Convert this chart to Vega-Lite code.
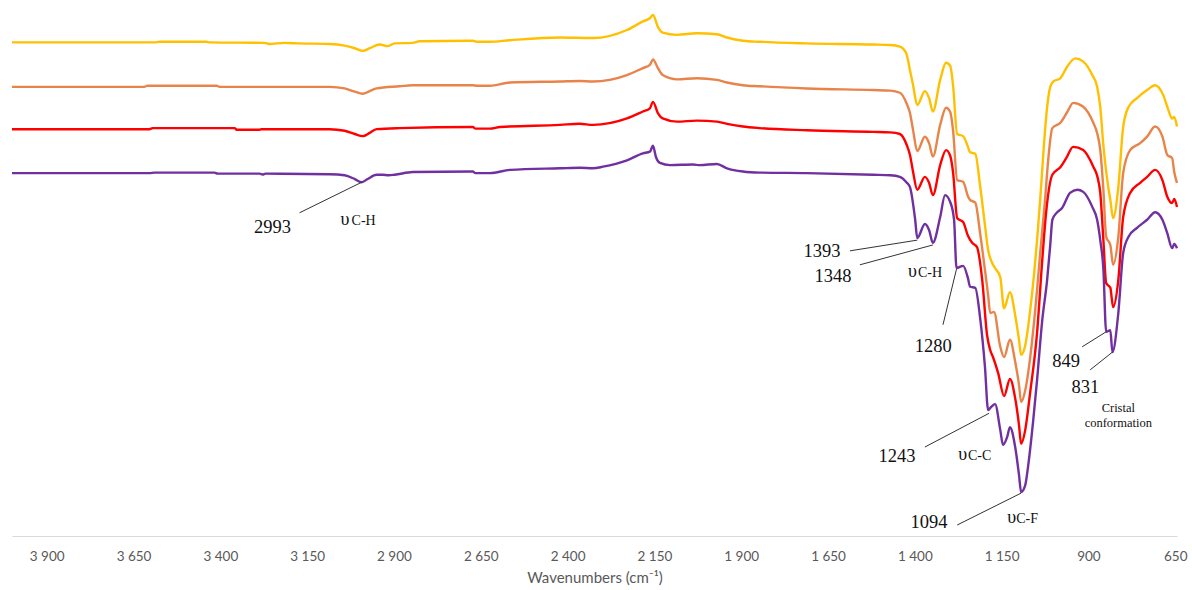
{
  "$schema": "https://vega.github.io/schema/vega-lite/v6.json",
  "width": 1165,
  "height": 536,
  "autosize": {"type": "none"},
  "padding": {"left": 12, "top": 0, "right": 15, "bottom": 54},
  "background": "white",
  "config": {"view": {"stroke": null}},
  "datasets": {
    "spectra": [
      {"sample": "Sample A", "wavenumber": 4000, "transmittance": 92.1}, {"sample": "Sample A", "wavenumber": 3590, "transmittance": 92.1}, {"sample": "Sample A", "wavenumber": 3575, "transmittance": 92.2}, {"sample": "Sample A", "wavenumber": 3440, "transmittance": 92.2}, {"sample": "Sample A", "wavenumber": 3431, "transmittance": 92.1}, {"sample": "Sample A", "wavenumber": 3273, "transmittance": 92.0}, {"sample": "Sample A", "wavenumber": 3259, "transmittance": 91.8}, {"sample": "Sample A", "wavenumber": 3215, "transmittance": 92.0}, {"sample": "Sample A", "wavenumber": 3172, "transmittance": 91.9}, {"sample": "Sample A", "wavenumber": 3085, "transmittance": 91.8}, {"sample": "Sample A", "wavenumber": 3042, "transmittance": 91.5}, {"sample": "Sample A", "wavenumber": 3013, "transmittance": 91.0}, {"sample": "Sample A", "wavenumber": 2990, "transmittance": 90.5}, {"sample": "Sample A", "wavenumber": 2970, "transmittance": 91.0}, {"sample": "Sample A", "wavenumber": 2941, "transmittance": 91.7}, {"sample": "Sample A", "wavenumber": 2918, "transmittance": 91.4}, {"sample": "Sample A", "wavenumber": 2898, "transmittance": 91.9}, {"sample": "Sample A", "wavenumber": 2846, "transmittance": 92.0}, {"sample": "Sample A", "wavenumber": 2826, "transmittance": 92.3}, {"sample": "Sample A", "wavenumber": 2673, "transmittance": 92.4}, {"sample": "Sample A", "wavenumber": 2659, "transmittance": 92.2}, {"sample": "Sample A", "wavenumber": 2624, "transmittance": 92.2}, {"sample": "Sample A", "wavenumber": 2566, "transmittance": 92.5}, {"sample": "Sample A", "wavenumber": 2422, "transmittance": 93.0}, {"sample": "Sample A", "wavenumber": 2327, "transmittance": 92.9}, {"sample": "Sample A", "wavenumber": 2229, "transmittance": 94.4}, {"sample": "Sample A", "wavenumber": 2183, "transmittance": 96.0}, {"sample": "Sample A", "wavenumber": 2163, "transmittance": 96.6}, {"sample": "Sample A", "wavenumber": 2154, "transmittance": 97.2}, {"sample": "Sample A", "wavenumber": 2140, "transmittance": 95.0}, {"sample": "Sample A", "wavenumber": 2126, "transmittance": 93.9}, {"sample": "Sample A", "wavenumber": 2085, "transmittance": 93.5}, {"sample": "Sample A", "wavenumber": 2028, "transmittance": 93.8}, {"sample": "Sample A", "wavenumber": 1970, "transmittance": 93.6}, {"sample": "Sample A", "wavenumber": 1941, "transmittance": 93.0}, {"sample": "Sample A", "wavenumber": 1895, "transmittance": 92.4}, {"sample": "Sample A", "wavenumber": 1846, "transmittance": 92.2}, {"sample": "Sample A", "wavenumber": 1711, "transmittance": 91.9}, {"sample": "Sample A", "wavenumber": 1520, "transmittance": 91.7}, {"sample": "Sample A", "wavenumber": 1471, "transmittance": 91.6}, {"sample": "Sample A", "wavenumber": 1443, "transmittance": 91.3}, {"sample": "Sample A", "wavenumber": 1425, "transmittance": 90.1}, {"sample": "Sample A", "wavenumber": 1414, "transmittance": 86.9}, {"sample": "Sample A", "wavenumber": 1405, "transmittance": 84.1}, {"sample": "Sample A", "wavenumber": 1393, "transmittance": 80.4}, {"sample": "Sample A", "wavenumber": 1371, "transmittance": 83.0}, {"sample": "Sample A", "wavenumber": 1359, "transmittance": 81.7}, {"sample": "Sample A", "wavenumber": 1348, "transmittance": 79.2}, {"sample": "Sample A", "wavenumber": 1327, "transmittance": 85.1}, {"sample": "Sample A", "wavenumber": 1310, "transmittance": 88.3}, {"sample": "Sample A", "wavenumber": 1298, "transmittance": 87.7}, {"sample": "Sample A", "wavenumber": 1290, "transmittance": 84.1}, {"sample": "Sample A", "wavenumber": 1278, "transmittance": 75.0}, {"sample": "Sample A", "wavenumber": 1261, "transmittance": 74.6}, {"sample": "Sample A", "wavenumber": 1247, "transmittance": 72.6}, {"sample": "Sample A", "wavenumber": 1241, "transmittance": 71.6}, {"sample": "Sample A", "wavenumber": 1226, "transmittance": 71.3}, {"sample": "Sample A", "wavenumber": 1212, "transmittance": 65.3}, {"sample": "Sample A", "wavenumber": 1198, "transmittance": 58.0}, {"sample": "Sample A", "wavenumber": 1189, "transmittance": 53.4}, {"sample": "Sample A", "wavenumber": 1177, "transmittance": 50.9}, {"sample": "Sample A", "wavenumber": 1169, "transmittance": 50.0}, {"sample": "Sample A", "wavenumber": 1154, "transmittance": 48.3}, {"sample": "Sample A", "wavenumber": 1143, "transmittance": 42.5}, {"sample": "Sample A", "wavenumber": 1126, "transmittance": 45.5}, {"sample": "Sample A", "wavenumber": 1111, "transmittance": 41.2}, {"sample": "Sample A", "wavenumber": 1100, "transmittance": 36.6}, {"sample": "Sample A", "wavenumber": 1094, "transmittance": 33.8}, {"sample": "Sample A", "wavenumber": 1082, "transmittance": 35.6}, {"sample": "Sample A", "wavenumber": 1068, "transmittance": 42.0}, {"sample": "Sample A", "wavenumber": 1048, "transmittance": 55.2}, {"sample": "Sample A", "wavenumber": 1039, "transmittance": 62.7}, {"sample": "Sample A", "wavenumber": 1028, "transmittance": 73.1}, {"sample": "Sample A", "wavenumber": 1019, "transmittance": 80.0}, {"sample": "Sample A", "wavenumber": 1010, "transmittance": 83.8}, {"sample": "Sample A", "wavenumber": 1001, "transmittance": 84.8}, {"sample": "Sample A", "wavenumber": 981, "transmittance": 85.4}, {"sample": "Sample A", "wavenumber": 961, "transmittance": 87.6}, {"sample": "Sample A", "wavenumber": 938, "transmittance": 89.1}, {"sample": "Sample A", "wavenumber": 915, "transmittance": 88.5}, {"sample": "Sample A", "wavenumber": 889, "transmittance": 86.0}, {"sample": "Sample A", "wavenumber": 875, "transmittance": 83.8}, {"sample": "Sample A", "wavenumber": 866, "transmittance": 80.0}, {"sample": "Sample A", "wavenumber": 857, "transmittance": 72.9}, {"sample": "Sample A", "wavenumber": 843, "transmittance": 65.1}, {"sample": "Sample A", "wavenumber": 837, "transmittance": 62.7}, {"sample": "Sample A", "wavenumber": 829, "transmittance": 59.3}, {"sample": "Sample A", "wavenumber": 814, "transmittance": 65.1}, {"sample": "Sample A", "wavenumber": 800, "transmittance": 76.3}, {"sample": "Sample A", "wavenumber": 785, "transmittance": 80.0}, {"sample": "Sample A", "wavenumber": 760, "transmittance": 81.7}, {"sample": "Sample A", "wavenumber": 731, "transmittance": 83.2}, {"sample": "Sample A", "wavenumber": 708, "transmittance": 84.1}, {"sample": "Sample A", "wavenumber": 685, "transmittance": 82.3}, {"sample": "Sample A", "wavenumber": 670, "transmittance": 79.5}, {"sample": "Sample A", "wavenumber": 659, "transmittance": 77.9}, {"sample": "Sample A", "wavenumber": 653, "transmittance": 78.2}, {"sample": "Sample A", "wavenumber": 645, "transmittance": 76.4},

      {"sample": "Sample B", "wavenumber": 4000, "transmittance": 83.8}, {"sample": "Sample B", "wavenumber": 3619, "transmittance": 83.8}, {"sample": "Sample B", "wavenumber": 3610, "transmittance": 84.0}, {"sample": "Sample B", "wavenumber": 3411, "transmittance": 84.0}, {"sample": "Sample B", "wavenumber": 3402, "transmittance": 83.8}, {"sample": "Sample B", "wavenumber": 3085, "transmittance": 83.8}, {"sample": "Sample B", "wavenumber": 3042, "transmittance": 83.5}, {"sample": "Sample B", "wavenumber": 3013, "transmittance": 82.9}, {"sample": "Sample B", "wavenumber": 2990, "transmittance": 82.5}, {"sample": "Sample B", "wavenumber": 2970, "transmittance": 83.0}, {"sample": "Sample B", "wavenumber": 2950, "transmittance": 83.5}, {"sample": "Sample B", "wavenumber": 2884, "transmittance": 83.9}, {"sample": "Sample B", "wavenumber": 2846, "transmittance": 84.1}, {"sample": "Sample B", "wavenumber": 2673, "transmittance": 84.1}, {"sample": "Sample B", "wavenumber": 2659, "transmittance": 84.0}, {"sample": "Sample B", "wavenumber": 2624, "transmittance": 84.0}, {"sample": "Sample B", "wavenumber": 2566, "transmittance": 84.6}, {"sample": "Sample B", "wavenumber": 2422, "transmittance": 84.8}, {"sample": "Sample B", "wavenumber": 2365, "transmittance": 84.9}, {"sample": "Sample B", "wavenumber": 2327, "transmittance": 84.8}, {"sample": "Sample B", "wavenumber": 2229, "transmittance": 86.0}, {"sample": "Sample B", "wavenumber": 2183, "transmittance": 87.3}, {"sample": "Sample B", "wavenumber": 2163, "transmittance": 87.9}, {"sample": "Sample B", "wavenumber": 2154, "transmittance": 88.9}, {"sample": "Sample B", "wavenumber": 2140, "transmittance": 87.3}, {"sample": "Sample B", "wavenumber": 2126, "transmittance": 86.0}, {"sample": "Sample B", "wavenumber": 2085, "transmittance": 85.2}, {"sample": "Sample B", "wavenumber": 2028, "transmittance": 85.4}, {"sample": "Sample B", "wavenumber": 1970, "transmittance": 85.1}, {"sample": "Sample B", "wavenumber": 1941, "transmittance": 84.6}, {"sample": "Sample B", "wavenumber": 1895, "transmittance": 84.1}, {"sample": "Sample B", "wavenumber": 1846, "transmittance": 83.9}, {"sample": "Sample B", "wavenumber": 1711, "transmittance": 83.5}, {"sample": "Sample B", "wavenumber": 1520, "transmittance": 83.2}, {"sample": "Sample B", "wavenumber": 1471, "transmittance": 83.1}, {"sample": "Sample B", "wavenumber": 1443, "transmittance": 82.7}, {"sample": "Sample B", "wavenumber": 1423, "transmittance": 80.6}, {"sample": "Sample B", "wavenumber": 1414, "transmittance": 78.9}, {"sample": "Sample B", "wavenumber": 1405, "transmittance": 75.7}, {"sample": "Sample B", "wavenumber": 1393, "transmittance": 71.8}, {"sample": "Sample B", "wavenumber": 1371, "transmittance": 74.5}, {"sample": "Sample B", "wavenumber": 1359, "transmittance": 73.3}, {"sample": "Sample B", "wavenumber": 1348, "transmittance": 70.8}, {"sample": "Sample B", "wavenumber": 1327, "transmittance": 76.7}, {"sample": "Sample B", "wavenumber": 1310, "transmittance": 79.9}, {"sample": "Sample B", "wavenumber": 1298, "transmittance": 79.1}, {"sample": "Sample B", "wavenumber": 1290, "transmittance": 75.7}, {"sample": "Sample B", "wavenumber": 1278, "transmittance": 66.4}, {"sample": "Sample B", "wavenumber": 1261, "transmittance": 66.1}, {"sample": "Sample B", "wavenumber": 1247, "transmittance": 63.4}, {"sample": "Sample B", "wavenumber": 1241, "transmittance": 62.7}, {"sample": "Sample B", "wavenumber": 1226, "transmittance": 62.2}, {"sample": "Sample B", "wavenumber": 1212, "transmittance": 56.5}, {"sample": "Sample B", "wavenumber": 1198, "transmittance": 49.6}, {"sample": "Sample B", "wavenumber": 1189, "transmittance": 45.0}, {"sample": "Sample B", "wavenumber": 1183, "transmittance": 41.6}, {"sample": "Sample B", "wavenumber": 1172, "transmittance": 41.8}, {"sample": "Sample B", "wavenumber": 1154, "transmittance": 35.3}, {"sample": "Sample B", "wavenumber": 1143, "transmittance": 33.4}, {"sample": "Sample B", "wavenumber": 1126, "transmittance": 36.6}, {"sample": "Sample B", "wavenumber": 1111, "transmittance": 32.5}, {"sample": "Sample B", "wavenumber": 1100, "transmittance": 28.2}, {"sample": "Sample B", "wavenumber": 1094, "transmittance": 25.0}, {"sample": "Sample B", "wavenumber": 1082, "transmittance": 27.2}, {"sample": "Sample B", "wavenumber": 1068, "transmittance": 33.2}, {"sample": "Sample B", "wavenumber": 1048, "transmittance": 45.9}, {"sample": "Sample B", "wavenumber": 1039, "transmittance": 52.8}, {"sample": "Sample B", "wavenumber": 1025, "transmittance": 62.7}, {"sample": "Sample B", "wavenumber": 1016, "transmittance": 70.1}, {"sample": "Sample B", "wavenumber": 1004, "transmittance": 76.1}, {"sample": "Sample B", "wavenumber": 981, "transmittance": 77.1}, {"sample": "Sample B", "wavenumber": 961, "transmittance": 79.1}, {"sample": "Sample B", "wavenumber": 944, "transmittance": 80.8}, {"sample": "Sample B", "wavenumber": 915, "transmittance": 80.1}, {"sample": "Sample B", "wavenumber": 886, "transmittance": 77.1}, {"sample": "Sample B", "wavenumber": 875, "transmittance": 75.2}, {"sample": "Sample B", "wavenumber": 866, "transmittance": 72.0}, {"sample": "Sample B", "wavenumber": 857, "transmittance": 64.6}, {"sample": "Sample B", "wavenumber": 849, "transmittance": 55.8}, {"sample": "Sample B", "wavenumber": 837, "transmittance": 54.3}, {"sample": "Sample B", "wavenumber": 829, "transmittance": 50.6}, {"sample": "Sample B", "wavenumber": 814, "transmittance": 55.8}, {"sample": "Sample B", "wavenumber": 800, "transmittance": 67.7}, {"sample": "Sample B", "wavenumber": 780, "transmittance": 72.0}, {"sample": "Sample B", "wavenumber": 751, "transmittance": 73.3}, {"sample": "Sample B", "wavenumber": 731, "transmittance": 74.5}, {"sample": "Sample B", "wavenumber": 708, "transmittance": 76.4}, {"sample": "Sample B", "wavenumber": 687, "transmittance": 74.5}, {"sample": "Sample B", "wavenumber": 673, "transmittance": 71.1}, {"sample": "Sample B", "wavenumber": 659, "transmittance": 70.5}, {"sample": "Sample B", "wavenumber": 653, "transmittance": 67.9}, {"sample": "Sample B", "wavenumber": 645, "transmittance": 65.9},

      {"sample": "Sample C", "wavenumber": 4000, "transmittance": 75.9}, {"sample": "Sample C", "wavenumber": 3604, "transmittance": 75.9}, {"sample": "Sample C", "wavenumber": 3595, "transmittance": 76.1}, {"sample": "Sample C", "wavenumber": 3359, "transmittance": 76.1}, {"sample": "Sample C", "wavenumber": 3353, "transmittance": 75.8}, {"sample": "Sample C", "wavenumber": 3287, "transmittance": 75.8}, {"sample": "Sample C", "wavenumber": 3281, "transmittance": 75.9}, {"sample": "Sample C", "wavenumber": 3085, "transmittance": 75.9}, {"sample": "Sample C", "wavenumber": 3042, "transmittance": 75.6}, {"sample": "Sample C", "wavenumber": 3013, "transmittance": 75.0}, {"sample": "Sample C", "wavenumber": 2990, "transmittance": 74.6}, {"sample": "Sample C", "wavenumber": 2970, "transmittance": 75.2}, {"sample": "Sample C", "wavenumber": 2950, "transmittance": 75.9}, {"sample": "Sample C", "wavenumber": 2884, "transmittance": 76.1}, {"sample": "Sample C", "wavenumber": 2673, "transmittance": 76.3}, {"sample": "Sample C", "wavenumber": 2665, "transmittance": 76.0}, {"sample": "Sample C", "wavenumber": 2624, "transmittance": 76.0}, {"sample": "Sample C", "wavenumber": 2595, "transmittance": 76.3}, {"sample": "Sample C", "wavenumber": 2422, "transmittance": 76.7}, {"sample": "Sample C", "wavenumber": 2365, "transmittance": 76.9}, {"sample": "Sample C", "wavenumber": 2327, "transmittance": 76.7}, {"sample": "Sample C", "wavenumber": 2229, "transmittance": 77.9}, {"sample": "Sample C", "wavenumber": 2183, "transmittance": 79.2}, {"sample": "Sample C", "wavenumber": 2163, "transmittance": 79.8}, {"sample": "Sample C", "wavenumber": 2154, "transmittance": 81.0}, {"sample": "Sample C", "wavenumber": 2140, "transmittance": 78.9}, {"sample": "Sample C", "wavenumber": 2126, "transmittance": 77.9}, {"sample": "Sample C", "wavenumber": 2085, "transmittance": 77.3}, {"sample": "Sample C", "wavenumber": 2028, "transmittance": 77.5}, {"sample": "Sample C", "wavenumber": 1970, "transmittance": 77.3}, {"sample": "Sample C", "wavenumber": 1941, "transmittance": 76.9}, {"sample": "Sample C", "wavenumber": 1895, "transmittance": 76.4}, {"sample": "Sample C", "wavenumber": 1846, "transmittance": 76.1}, {"sample": "Sample C", "wavenumber": 1711, "transmittance": 75.7}, {"sample": "Sample C", "wavenumber": 1520, "transmittance": 75.4}, {"sample": "Sample C", "wavenumber": 1471, "transmittance": 75.3}, {"sample": "Sample C", "wavenumber": 1443, "transmittance": 75.0}, {"sample": "Sample C", "wavenumber": 1423, "transmittance": 72.9}, {"sample": "Sample C", "wavenumber": 1414, "transmittance": 71.1}, {"sample": "Sample C", "wavenumber": 1405, "transmittance": 67.9}, {"sample": "Sample C", "wavenumber": 1393, "transmittance": 64.6}, {"sample": "Sample C", "wavenumber": 1371, "transmittance": 67.0}, {"sample": "Sample C", "wavenumber": 1359, "transmittance": 65.9}, {"sample": "Sample C", "wavenumber": 1348, "transmittance": 63.6}, {"sample": "Sample C", "wavenumber": 1327, "transmittance": 69.2}, {"sample": "Sample C", "wavenumber": 1310, "transmittance": 72.0}, {"sample": "Sample C", "wavenumber": 1298, "transmittance": 70.9}, {"sample": "Sample C", "wavenumber": 1290, "transmittance": 67.9}, {"sample": "Sample C", "wavenumber": 1278, "transmittance": 59.3}, {"sample": "Sample C", "wavenumber": 1261, "transmittance": 58.6}, {"sample": "Sample C", "wavenumber": 1247, "transmittance": 56.0}, {"sample": "Sample C", "wavenumber": 1235, "transmittance": 54.7}, {"sample": "Sample C", "wavenumber": 1221, "transmittance": 53.9}, {"sample": "Sample C", "wavenumber": 1206, "transmittance": 47.8}, {"sample": "Sample C", "wavenumber": 1192, "transmittance": 37.5}, {"sample": "Sample C", "wavenumber": 1183, "transmittance": 34.7}, {"sample": "Sample C", "wavenumber": 1175, "transmittance": 33.4}, {"sample": "Sample C", "wavenumber": 1160, "transmittance": 30.4}, {"sample": "Sample C", "wavenumber": 1143, "transmittance": 26.1}, {"sample": "Sample C", "wavenumber": 1126, "transmittance": 29.3}, {"sample": "Sample C", "wavenumber": 1111, "transmittance": 25.7}, {"sample": "Sample C", "wavenumber": 1100, "transmittance": 20.7}, {"sample": "Sample C", "wavenumber": 1094, "transmittance": 17.2}, {"sample": "Sample C", "wavenumber": 1082, "transmittance": 19.8}, {"sample": "Sample C", "wavenumber": 1068, "transmittance": 26.7}, {"sample": "Sample C", "wavenumber": 1048, "transmittance": 37.9}, {"sample": "Sample C", "wavenumber": 1033, "transmittance": 51.5}, {"sample": "Sample C", "wavenumber": 1022, "transmittance": 60.3}, {"sample": "Sample C", "wavenumber": 1004, "transmittance": 67.4}, {"sample": "Sample C", "wavenumber": 981, "transmittance": 68.8}, {"sample": "Sample C", "wavenumber": 964, "transmittance": 70.5}, {"sample": "Sample C", "wavenumber": 944, "transmittance": 72.6}, {"sample": "Sample C", "wavenumber": 915, "transmittance": 72.0}, {"sample": "Sample C", "wavenumber": 886, "transmittance": 68.9}, {"sample": "Sample C", "wavenumber": 875, "transmittance": 67.2}, {"sample": "Sample C", "wavenumber": 866, "transmittance": 64.0}, {"sample": "Sample C", "wavenumber": 857, "transmittance": 55.2}, {"sample": "Sample C", "wavenumber": 849, "transmittance": 47.2}, {"sample": "Sample C", "wavenumber": 837, "transmittance": 46.3}, {"sample": "Sample C", "wavenumber": 829, "transmittance": 42.7}, {"sample": "Sample C", "wavenumber": 814, "transmittance": 47.8}, {"sample": "Sample C", "wavenumber": 800, "transmittance": 59.5}, {"sample": "Sample C", "wavenumber": 780, "transmittance": 64.0}, {"sample": "Sample C", "wavenumber": 751, "transmittance": 65.9}, {"sample": "Sample C", "wavenumber": 731, "transmittance": 67.0}, {"sample": "Sample C", "wavenumber": 708, "transmittance": 68.3}, {"sample": "Sample C", "wavenumber": 687, "transmittance": 66.4}, {"sample": "Sample C", "wavenumber": 673, "transmittance": 63.3}, {"sample": "Sample C", "wavenumber": 659, "transmittance": 62.1}, {"sample": "Sample C", "wavenumber": 653, "transmittance": 62.9}, {"sample": "Sample C", "wavenumber": 645, "transmittance": 61.4},

      {"sample": "Sample D", "wavenumber": 4000, "transmittance": 67.7}, {"sample": "Sample D", "wavenumber": 3748, "transmittance": 67.7}, {"sample": "Sample D", "wavenumber": 3604, "transmittance": 67.7}, {"sample": "Sample D", "wavenumber": 3590, "transmittance": 67.8}, {"sample": "Sample D", "wavenumber": 3417, "transmittance": 67.8}, {"sample": "Sample D", "wavenumber": 3408, "transmittance": 67.6}, {"sample": "Sample D", "wavenumber": 3287, "transmittance": 67.6}, {"sample": "Sample D", "wavenumber": 3278, "transmittance": 67.45}, {"sample": "Sample D", "wavenumber": 3270, "transmittance": 67.6}, {"sample": "Sample D", "wavenumber": 3085, "transmittance": 67.5}, {"sample": "Sample D", "wavenumber": 3042, "transmittance": 67.3}, {"sample": "Sample D", "wavenumber": 3013, "transmittance": 66.6}, {"sample": "Sample D", "wavenumber": 2993, "transmittance": 66.0}, {"sample": "Sample D", "wavenumber": 2976, "transmittance": 66.6}, {"sample": "Sample D", "wavenumber": 2950, "transmittance": 67.4}, {"sample": "Sample D", "wavenumber": 2933, "transmittance": 67.4}, {"sample": "Sample D", "wavenumber": 2915, "transmittance": 67.3}, {"sample": "Sample D", "wavenumber": 2898, "transmittance": 67.4}, {"sample": "Sample D", "wavenumber": 2846, "transmittance": 67.9}, {"sample": "Sample D", "wavenumber": 2673, "transmittance": 68.0}, {"sample": "Sample D", "wavenumber": 2665, "transmittance": 67.7}, {"sample": "Sample D", "wavenumber": 2624, "transmittance": 67.7}, {"sample": "Sample D", "wavenumber": 2566, "transmittance": 68.3}, {"sample": "Sample D", "wavenumber": 2422, "transmittance": 68.6}, {"sample": "Sample D", "wavenumber": 2365, "transmittance": 68.7}, {"sample": "Sample D", "wavenumber": 2327, "transmittance": 68.6}, {"sample": "Sample D", "wavenumber": 2298, "transmittance": 68.9}, {"sample": "Sample D", "wavenumber": 2229, "transmittance": 70.1}, {"sample": "Sample D", "wavenumber": 2183, "transmittance": 71.4}, {"sample": "Sample D", "wavenumber": 2163, "transmittance": 71.7}, {"sample": "Sample D", "wavenumber": 2154, "transmittance": 72.8}, {"sample": "Sample D", "wavenumber": 2146, "transmittance": 70.8}, {"sample": "Sample D", "wavenumber": 2134, "transmittance": 69.6}, {"sample": "Sample D", "wavenumber": 2105, "transmittance": 69.2}, {"sample": "Sample D", "wavenumber": 2039, "transmittance": 69.3}, {"sample": "Sample D", "wavenumber": 2019, "transmittance": 69.2}, {"sample": "Sample D", "wavenumber": 1970, "transmittance": 69.4}, {"sample": "Sample D", "wavenumber": 1941, "transmittance": 68.6}, {"sample": "Sample D", "wavenumber": 1895, "transmittance": 68.0}, {"sample": "Sample D", "wavenumber": 1846, "transmittance": 67.8}, {"sample": "Sample D", "wavenumber": 1711, "transmittance": 67.7}, {"sample": "Sample D", "wavenumber": 1520, "transmittance": 67.4}, {"sample": "Sample D", "wavenumber": 1471, "transmittance": 67.3}, {"sample": "Sample D", "wavenumber": 1443, "transmittance": 67.0}, {"sample": "Sample D", "wavenumber": 1423, "transmittance": 65.9}, {"sample": "Sample D", "wavenumber": 1414, "transmittance": 65.1}, {"sample": "Sample D", "wavenumber": 1399, "transmittance": 59.0}, {"sample": "Sample D", "wavenumber": 1393, "transmittance": 55.6}, {"sample": "Sample D", "wavenumber": 1371, "transmittance": 58.2}, {"sample": "Sample D", "wavenumber": 1359, "transmittance": 57.1}, {"sample": "Sample D", "wavenumber": 1348, "transmittance": 54.7}, {"sample": "Sample D", "wavenumber": 1327, "transmittance": 59.5}, {"sample": "Sample D", "wavenumber": 1313, "transmittance": 63.6}, {"sample": "Sample D", "wavenumber": 1298, "transmittance": 62.3}, {"sample": "Sample D", "wavenumber": 1287, "transmittance": 59.0}, {"sample": "Sample D", "wavenumber": 1280, "transmittance": 50.0}, {"sample": "Sample D", "wavenumber": 1261, "transmittance": 50.4}, {"sample": "Sample D", "wavenumber": 1247, "transmittance": 48.1}, {"sample": "Sample D", "wavenumber": 1241, "transmittance": 46.5}, {"sample": "Sample D", "wavenumber": 1226, "transmittance": 46.3}, {"sample": "Sample D", "wavenumber": 1212, "transmittance": 40.7}, {"sample": "Sample D", "wavenumber": 1198, "transmittance": 31.5}, {"sample": "Sample D", "wavenumber": 1189, "transmittance": 23.5}, {"sample": "Sample D", "wavenumber": 1180, "transmittance": 24.1}, {"sample": "Sample D", "wavenumber": 1169, "transmittance": 24.6}, {"sample": "Sample D", "wavenumber": 1154, "transmittance": 19.8}, {"sample": "Sample D", "wavenumber": 1146, "transmittance": 17.0}, {"sample": "Sample D", "wavenumber": 1134, "transmittance": 18.5}, {"sample": "Sample D", "wavenumber": 1126, "transmittance": 20.3}, {"sample": "Sample D", "wavenumber": 1111, "transmittance": 16.6}, {"sample": "Sample D", "wavenumber": 1100, "transmittance": 11.4}, {"sample": "Sample D", "wavenumber": 1094, "transmittance": 8.2}, {"sample": "Sample D", "wavenumber": 1082, "transmittance": 9.5}, {"sample": "Sample D", "wavenumber": 1074, "transmittance": 12.9}, {"sample": "Sample D", "wavenumber": 1059, "transmittance": 21.6}, {"sample": "Sample D", "wavenumber": 1048, "transmittance": 29.1}, {"sample": "Sample D", "wavenumber": 1033, "transmittance": 40.3}, {"sample": "Sample D", "wavenumber": 1019, "transmittance": 47.8}, {"sample": "Sample D", "wavenumber": 1010, "transmittance": 54.3}, {"sample": "Sample D", "wavenumber": 1004, "transmittance": 59.0}, {"sample": "Sample D", "wavenumber": 990, "transmittance": 60.4}, {"sample": "Sample D", "wavenumber": 976, "transmittance": 61.2}, {"sample": "Sample D", "wavenumber": 953, "transmittance": 64.0}, {"sample": "Sample D", "wavenumber": 932, "transmittance": 64.6}, {"sample": "Sample D", "wavenumber": 915, "transmittance": 64.2}, {"sample": "Sample D", "wavenumber": 889, "transmittance": 61.4}, {"sample": "Sample D", "wavenumber": 875, "transmittance": 59.0}, {"sample": "Sample D", "wavenumber": 866, "transmittance": 55.2}, {"sample": "Sample D", "wavenumber": 857, "transmittance": 49.8}, {"sample": "Sample D", "wavenumber": 849, "transmittance": 38.1}, {"sample": "Sample D", "wavenumber": 837, "transmittance": 38.4}, {"sample": "Sample D", "wavenumber": 831, "transmittance": 34.3}, {"sample": "Sample D", "wavenumber": 814, "transmittance": 41.6}, {"sample": "Sample D", "wavenumber": 800, "transmittance": 52.8}, {"sample": "Sample D", "wavenumber": 785, "transmittance": 55.8}, {"sample": "Sample D", "wavenumber": 760, "transmittance": 57.5}, {"sample": "Sample D", "wavenumber": 731, "transmittance": 59.0}, {"sample": "Sample D", "wavenumber": 708, "transmittance": 60.4}, {"sample": "Sample D", "wavenumber": 687, "transmittance": 59.0}, {"sample": "Sample D", "wavenumber": 673, "transmittance": 56.5}, {"sample": "Sample D", "wavenumber": 659, "transmittance": 53.7}, {"sample": "Sample D", "wavenumber": 653, "transmittance": 54.5}, {"sample": "Sample D", "wavenumber": 645, "transmittance": 53.7}
    ],
    "leaders": [
      {"wavenumber": 3172, "transmittance": 60.3, "wavenumber2": 2993, "transmittance2": 66.0},
      {"wavenumber": 1587, "transmittance": 53.2, "wavenumber2": 1393, "transmittance2": 55.2},
      {"wavenumber": 1558, "transmittance": 50.6, "wavenumber2": 1348, "transmittance2": 54.3},
      {"wavenumber": 1319, "transmittance": 39.4, "wavenumber2": 1280, "transmittance2": 49.8},
      {"wavenumber": 1371, "transmittance": 16.6, "wavenumber2": 1186, "transmittance2": 22.9},
      {"wavenumber": 1278, "transmittance": 2.05, "wavenumber2": 1094, "transmittance2": 8.0},
      {"wavenumber": 918, "transmittance": 35.3, "wavenumber2": 849, "transmittance2": 38.1},
      {"wavenumber": 895, "transmittance": 31.0, "wavenumber2": 831, "transmittance2": 34.3}
    ],
    "peakLabels": [
      {"label": "2993", "wavenumber": 3250, "transmittance": 56.5},
      {"label": "1393", "wavenumber": 1667, "transmittance": 52.1},
      {"label": "1348", "wavenumber": 1636, "transmittance": 47.4},
      {"label": "1280", "wavenumber": 1347, "transmittance": 34.3},
      {"label": "1243", "wavenumber": 1451, "transmittance": 13.8},
      {"label": "1094", "wavenumber": 1359, "transmittance": 1.5},
      {"label": "849", "wavenumber": 964, "transmittance": 31.5},
      {"label": "831", "wavenumber": 909, "transmittance": 26.7}
    ],
    "modeSymbols": [
      {"label": "υ", "wavenumber": 3054, "transmittance": 58.0},
      {"label": "υ", "wavenumber": 1420, "transmittance": 48.3},
      {"label": "υ", "wavenumber": 1275, "transmittance": 14.2},
      {"label": "υ", "wavenumber": 1134, "transmittance": 2.4}
    ],
    "modeBonds": [
      {"label": "C-H", "wavenumber": 3022, "transmittance": 58.0},
      {"label": "C-H", "wavenumber": 1391, "transmittance": 48.3},
      {"label": "C-C", "wavenumber": 1247, "transmittance": 14.2},
      {"label": "C-F", "wavenumber": 1108, "transmittance": 2.4}
    ],
    "notes": [
      {"label": "Cristal", "wavenumber": 814, "transmittance": 23.1},
      {"label": "conformation", "wavenumber": 814, "transmittance": 20.3}
    ]
  },
  "layer": [
    {
      "data": {"name": "spectra"},
      "mark": {"type": "line", "strokeWidth": 2.4, "interpolate": "monotone"},
      "encoding": {
        "x": {
          "field": "wavenumber",
          "type": "quantitative",
          "scale": {"domain": [645, 4000], "reverse": true, "nice": false, "zero": false},
          "axis": {
            "title": "Wavenumbers (cm⁻¹)",
            "values": [3900, 3650, 3400, 3150, 2900, 2650, 2400, 2150, 1900, 1650, 1400, 1150, 900, 650],
            "labelExpr": "replace(format(datum.value, ','), ',', ' ')",
            "grid": false,
            "ticks": false,
            "tickSize": 0,
            "domainColor": "#d9d9d9",
            "domainWidth": 1,
            "labelFont": "Lato",
            "labelFontSize": 13.5,
            "labelColor": "#595959",
            "labelPadding": 13,
            "labelFlush": false,
            "titleFont": "Lato",
            "titleFontSize": 15,
            "titleFontWeight": "normal",
            "titleColor": "#595959",
            "titlePadding": 8
          }
        },
        "y": {
          "field": "transmittance",
          "type": "quantitative",
          "scale": {"domain": [0, 100], "nice": false, "zero": false},
          "axis": null
        },
        "color": {
          "field": "sample",
          "type": "nominal",
          "scale": {"domain": ["Sample A", "Sample B", "Sample C", "Sample D"], "range": ["#ffc000", "#e8844a", "#ff0000", "#7030a0"]},
          "legend": null
        }
      }
    },
    {
      "data": {"name": "leaders"},
      "mark": {"type": "rule", "color": "#333333", "strokeWidth": 1},
      "encoding": {
        "x": {"field": "wavenumber", "type": "quantitative"},
        "x2": {"field": "wavenumber2"},
        "y": {"field": "transmittance", "type": "quantitative"},
        "y2": {"field": "transmittance2"}
      }
    },
    {
      "data": {"name": "peakLabels"},
      "mark": {"type": "text", "font": "Liberation Serif", "fontSize": 18.5, "color": "#111111", "align": "center", "baseline": "alphabetic"},
      "encoding": {
        "x": {"field": "wavenumber", "type": "quantitative"},
        "y": {"field": "transmittance", "type": "quantitative"},
        "text": {"field": "label"}
      }
    },
    {
      "data": {"name": "modeSymbols"},
      "mark": {"type": "text", "font": "Liberation Serif", "fontSize": 18, "color": "#111111", "align": "left", "baseline": "alphabetic"},
      "encoding": {
        "x": {"field": "wavenumber", "type": "quantitative"},
        "y": {"field": "transmittance", "type": "quantitative"},
        "text": {"field": "label"}
      }
    },
    {
      "data": {"name": "modeBonds"},
      "mark": {"type": "text", "font": "Liberation Serif", "fontSize": 14, "color": "#111111", "align": "left", "baseline": "alphabetic"},
      "encoding": {
        "x": {"field": "wavenumber", "type": "quantitative"},
        "y": {"field": "transmittance", "type": "quantitative"},
        "text": {"field": "label"}
      }
    },
    {
      "data": {"name": "notes"},
      "mark": {"type": "text", "font": "Liberation Serif", "fontSize": 12.5, "color": "#111111", "align": "center", "baseline": "alphabetic"},
      "encoding": {
        "x": {"field": "wavenumber", "type": "quantitative"},
        "y": {"field": "transmittance", "type": "quantitative"},
        "text": {"field": "label"}
      }
    }
  ]
}
